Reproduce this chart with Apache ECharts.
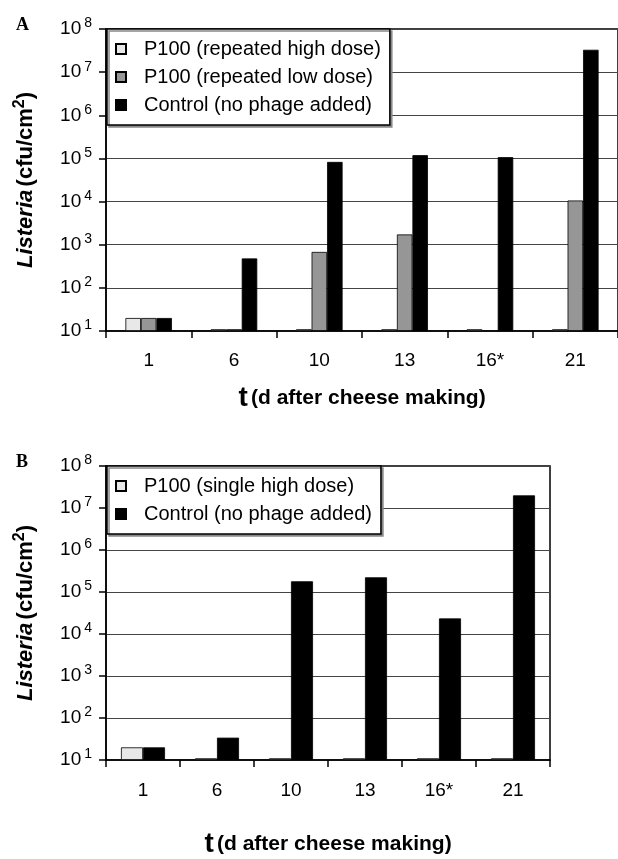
<!DOCTYPE html>
<html><head><meta charset="utf-8">
<script src="https://cdn.jsdelivr.net/npm/echarts@6/dist/echarts.min.js"></script>
<style>html,body{margin:0;padding:0;background:#fff}#c{width:618px;height:859px}</style>
</head><body><div id="c"></div>
<script>
// ---- data ----
const categories = ['1', '6', '10', '13', '16*', '21'];
const namesA = ['P100 (repeated high dose)', 'P100 (repeated low dose)', 'Control (no phage added)'];
const highDoseA = [20, 11, 11, 11, 11, 11];
const lowDoseA = [20, 11, 680, 1730, null, 10600];
const controlA = [20, 480, 83000, 119000, 107000, 33000000];
const namesB = ['P100 (single high dose)', 'Control (no phage added)'];
const singleDoseB = [20, 11, 11, 11, 11, 11];
const controlB = [20, 34, 180000, 224000, 23500, 20000000];
const yMin = 10, yMax = 1e8;

const FONT = 'Liberation Sans, Arial, sans-serif';
const chart = echarts.init(document.getElementById('c'), null, {renderer: 'canvas'});

function yLabelFmt(v) {
  const e = Math.round(Math.log10(v));
  return '{b|10}{e|' + e + '}';
}
const yLabelRich = {
  b: {fontSize: 19, fontFamily: FONT, color: '#000', lineHeight: 22},
  e: {fontSize: 14, fontFamily: FONT, color: '#000', padding: [0, 0, 11, 3]}
};
const yNameRich = {
  i: {fontSize: 22, fontFamily: FONT, fontWeight: 'bold', fontStyle: 'italic', color: '#000'},
  n: {fontSize: 22, fontFamily: FONT, fontWeight: 'bold', color: '#000'},
  s: {fontSize: 16, fontFamily: FONT, fontWeight: 'bold', color: '#000', padding: [0, 0, 12, 0]}
};
const xNameRich = {
  t: {fontSize: 28, fontFamily: FONT, fontWeight: 'bold', color: '#000'},
  r: {fontSize: 21, fontFamily: FONT, fontWeight: 'bold', color: '#000'}
};

function makeY(gi) {
  return {
    type: 'log', logBase: 10, gridIndex: gi, min: yMin, max: yMax, splitNumber: 7, startValue: yMin,
    axisLine: {show: true, lineStyle: {color: '#000', width: 1.5}},
    axisTick: {show: true, length: 7, lineStyle: {color: '#000', width: 1.5}},
    axisLabel: {formatter: yLabelFmt, rich: yLabelRich, margin: 14},
    splitLine: {show: true, lineStyle: {color: '#444', width: 1}},
    minorTick: {show: false}, minorSplitLine: {show: false},
    name: '{i|Listeria} {n|(cfu/cm}{s|2}{n|)}', nameLocation: 'middle', nameRotate: 90, nameGap: 66,
    nameTextStyle: {rich: yNameRich}
  };
}
function makeX(gi, labelMargin, nameGap) {
  return {
    type: 'category', gridIndex: gi, data: categories,
    axisLine: {show: true, lineStyle: {color: '#000', width: 1.5}},
    axisTick: {show: true, alignWithLabel: false, length: 7, lineStyle: {color: '#000', width: 1.5}},
    axisLabel: {fontSize: 19, fontFamily: FONT, color: '#000', margin: labelMargin},
    splitLine: {show: false},
    name: '{t|t} {r|(d after cheese making)}', nameLocation: 'middle', nameGap: nameGap,
    nameTextStyle: {rich: xNameRich}
  };
}
const colors = {high: '#e8e8e8', low: '#969696', ctrl: '#000000'};
function bar(name, data, color, xi, w) {
  return {
    type: 'bar', name: name, data: data, xAxisIndex: xi, yAxisIndex: xi,
    barWidth: w, barGap: '0%', clip: true,
    itemStyle: {color: color, borderColor: '#000', borderWidth: 0.8},
    emphasis: {disabled: true}
  };
}
function legend(names, top) {
  return {
    data: names, orient: 'vertical', left: 107, top: top,
    icon: 'rect', itemWidth: 10, itemHeight: 10, itemGap: 8,
    padding: [10, 9, 10, 8],
    backgroundColor: '#fff', borderColor: '#000', borderWidth: 1.5,
    shadowColor: '#888', shadowOffsetX: 2, shadowOffsetY: 2, shadowBlur: 0,
    textStyle: {fontSize: 20, fontFamily: FONT, color: '#000', lineHeight: 20, padding: [0, 0, 0, 13]},
    selectedMode: false
  };
}

chart.setOption({
  animation: false,
  backgroundColor: '#fff',
  grid: [
    {left: 106, top: 29, width: 516, height: 302, show: true, borderColor: '#000', borderWidth: 1.5, backgroundColor: 'transparent'},
    {left: 106, top: 466, width: 444, height: 301, show: true, borderColor: '#000', borderWidth: 1.5, backgroundColor: 'transparent'}
  ],
  xAxis: [makeX(0, 20, 53), makeX(1, 21, 70)],
  yAxis: [makeY(0), makeY(1)],
  legend: [legend(namesA, 29), legend(namesB, 466)],
  graphic: [
    {type: 'text', left: 16, top: 16, style: {text: 'A', font: 'bold 18px Liberation Serif, Times New Roman, serif', fill: '#000'}},
    {type: 'text', left: 16, top: 453, style: {text: 'B', font: 'bold 18px Liberation Serif, Times New Roman, serif', fill: '#000'}}
  ],
  series: [
    bar(namesA[0], highDoseA, colors.high, 0, 15.5),
    bar(namesA[1], lowDoseA, colors.low, 0, 15.5),
    bar(namesA[2], controlA, colors.ctrl, 0, 15.5),
    bar(namesB[0], singleDoseB, colors.high, 1, 22),
    bar(namesB[1], controlB, colors.ctrl, 1, 22)
  ]
});
</script></body></html>
